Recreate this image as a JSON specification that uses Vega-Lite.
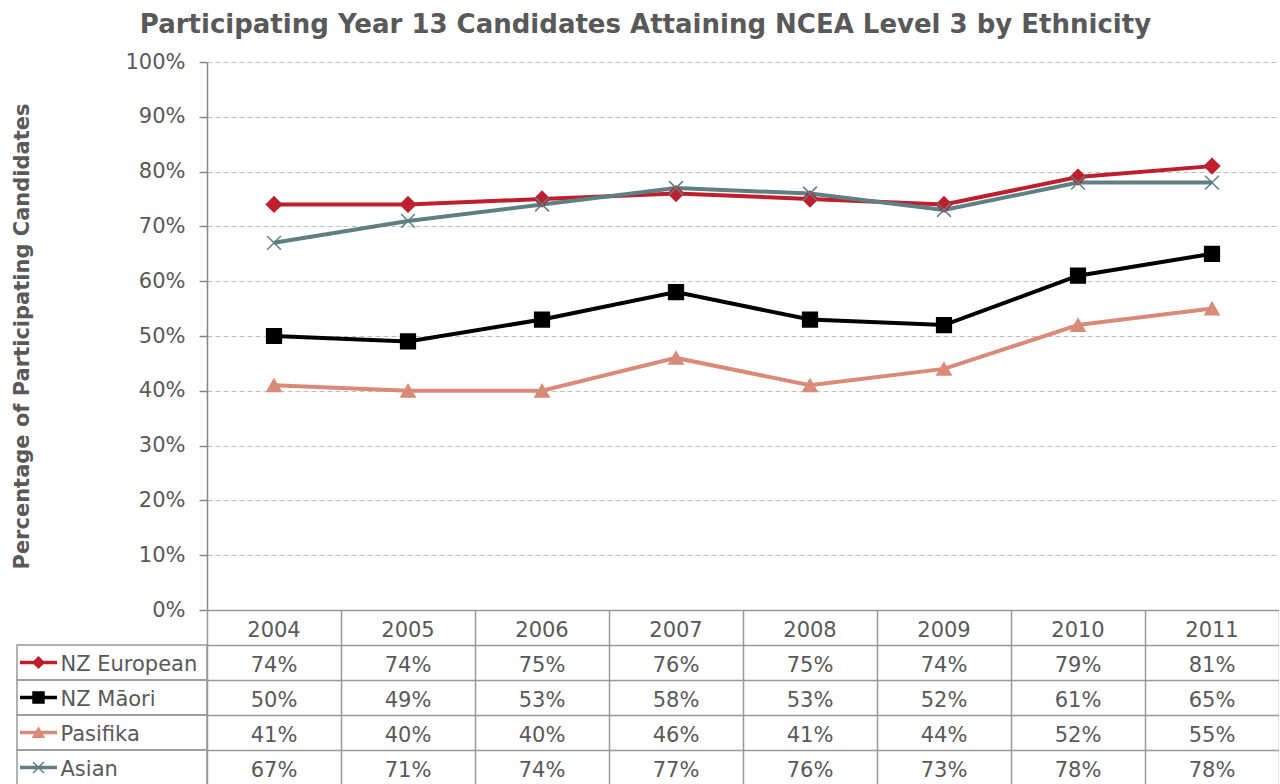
{
  "$schema": "https://vega.github.io/schema/vega-lite/v6.json",
  "background": "white",
  "padding": {"left": 11, "top": 12, "right": 0, "bottom": 0},
  "spacing": 0,
  "bounds": "flush",
  "config": {
    "font": "DejaVu Sans",
    "view": {"stroke": null},
    "axis": {"labelFont": "DejaVu Sans", "titleFont": "DejaVu Sans"}
  },
  "title": {
    "text": "Participating Year 13 Candidates Attaining NCEA Level 3 by Ethnicity",
    "font": "DejaVu Sans",
    "fontSize": 26,
    "fontWeight": "bold",
    "color": "#595959",
    "anchor": "middle",
    "offset": 13
  },
  "data": {
    "values": [
      {"series": "NZ European", "year": 2004, "value": 0.74},
      {"series": "NZ European", "year": 2005, "value": 0.74},
      {"series": "NZ European", "year": 2006, "value": 0.75},
      {"series": "NZ European", "year": 2007, "value": 0.76},
      {"series": "NZ European", "year": 2008, "value": 0.75},
      {"series": "NZ European", "year": 2009, "value": 0.74},
      {"series": "NZ European", "year": 2010, "value": 0.79},
      {"series": "NZ European", "year": 2011, "value": 0.81},
      {"series": "NZ Māori", "year": 2004, "value": 0.50},
      {"series": "NZ Māori", "year": 2005, "value": 0.49},
      {"series": "NZ Māori", "year": 2006, "value": 0.53},
      {"series": "NZ Māori", "year": 2007, "value": 0.58},
      {"series": "NZ Māori", "year": 2008, "value": 0.53},
      {"series": "NZ Māori", "year": 2009, "value": 0.52},
      {"series": "NZ Māori", "year": 2010, "value": 0.61},
      {"series": "NZ Māori", "year": 2011, "value": 0.65},
      {"series": "Pasifika", "year": 2004, "value": 0.41},
      {"series": "Pasifika", "year": 2005, "value": 0.40},
      {"series": "Pasifika", "year": 2006, "value": 0.40},
      {"series": "Pasifika", "year": 2007, "value": 0.46},
      {"series": "Pasifika", "year": 2008, "value": 0.41},
      {"series": "Pasifika", "year": 2009, "value": 0.44},
      {"series": "Pasifika", "year": 2010, "value": 0.52},
      {"series": "Pasifika", "year": 2011, "value": 0.55},
      {"series": "Asian", "year": 2004, "value": 0.67},
      {"series": "Asian", "year": 2005, "value": 0.71},
      {"series": "Asian", "year": 2006, "value": 0.74},
      {"series": "Asian", "year": 2007, "value": 0.77},
      {"series": "Asian", "year": 2008, "value": 0.76},
      {"series": "Asian", "year": 2009, "value": 0.73},
      {"series": "Asian", "year": 2010, "value": 0.78},
      {"series": "Asian", "year": 2011, "value": 0.78}
    ]
  },
  "vconcat": [
    {
      "width": 1072,
      "height": 548,
      "layer": [
        {
          "mark": {"type": "line"},
          "encoding": {
            "x": {"field": "year", "type": "quantitative", "scale": {"domain": [2003.5, 2011.5], "nice": false, "zero": false}, "axis": null},
            "y": {
              "field": "value", "type": "quantitative",
              "scale": {"domain": [0, 1], "nice": false},
              "axis": {
                "values": [0, 0.1, 0.2, 0.3, 0.4, 0.5, 0.6, 0.7, 0.8, 0.9, 1],
                "format": ".0%",
                "labelFontSize": 21, "labelColor": "#595959", "labelPadding": 14,
                "tickSize": 8, "tickColor": "#868686", "tickWidth": 1.5,
                "domainColor": "#868686", "domainWidth": 1.5,
                "grid": true, "gridColor": "#BFBFBF", "gridDash": [5, 3], "gridWidth": 1.2,
                "title": "Percentage of Participating Candidates",
                "titleFontSize": 21, "titleFontWeight": "bold", "titleColor": "#595959",
                "titlePadding": 92
              }
            },
            "color": {
              "field": "series", "type": "nominal",
              "scale": {"domain": ["NZ European", "NZ Māori", "Pasifika", "Asian"], "range": ["#BE1E2D", "#000000", "#DA8A78", "#5F7F83"]},
              "legend": null
            },
            "strokeWidth": {
              "field": "series", "type": "nominal",
              "scale": {"domain": ["NZ European", "NZ Māori", "Pasifika", "Asian"], "range": [4, 4, 3, 3]},
              "legend": null
            }
          }
        },
        {
          "mark": {"type": "point", "filled": true, "strokeWidth": 1.5, "opacity": 1},
          "encoding": {
            "x": {"field": "year", "type": "quantitative"},
            "y": {"field": "value", "type": "quantitative"},
            "shape": {
              "field": "series", "type": "nominal",
              "scale": {"domain": ["NZ European", "NZ Māori", "Pasifika", "Asian"], "range": ["diamond", "square", "triangle-up", "M-1,-1L1,1M-1,1L1,-1"]},
              "legend": null
            },
            "fill": {
              "field": "series", "type": "nominal",
              "scale": {"domain": ["NZ European", "NZ Māori", "Pasifika", "Asian"], "range": ["#BE1E2D", "#000000", "#DA8A78", "#5F7F83"]},
              "legend": null
            },
            "stroke": {
              "field": "series", "type": "nominal",
              "scale": {"domain": ["NZ European", "NZ Māori", "Pasifika", "Asian"], "range": ["#BE1E2D", "#000000", "#DA8A78", "#5F7F83"]},
              "legend": null
            },
            "size": {
              "field": "series", "type": "nominal",
              "scale": {"domain": ["NZ European", "NZ Māori", "Pasifika", "Asian"], "range": [230, 190, 120, 120]},
              "legend": null
            }
          }
        }
      ]
    },
    {
      "width": 1072,
      "height": 175,
      "layer": [
        {
          "transform": [{"filter": "datum.year == 2004"}],
          "mark": {"type": "rect", "filled": false, "color": "#999999", "strokeWidth": 1.5},
          "encoding": {
            "x": {"datum": 2002.0821, "type": "quantitative", "scale": {"domain": [2003.5, 2011.5], "nice": false, "zero": false}},
            "x2": {"datum": 2003.5},
            "y": {
              "field": "series", "type": "nominal",
              "scale": {"domain": ["header", "NZ European", "NZ Māori", "Pasifika", "Asian"], "paddingInner": 0, "paddingOuter": 0},
              "axis": {
                "orient": "left", "ticks": false, "domain": false,
                "grid": true, "tickBand": "extent", "gridColor": "#999999", "gridWidth": 1.5, "gridDash": [],
                "labelAlign": "left", "labelPadding": 147, "labelFontSize": 21, "labelColor": "#595959",
                "labelExpr": "datum.value == 'header' ? '' : datum.value",
                "labelOffset": 2,
                "title": null
              }
            }
          }
        },
        {
          "transform": [{"filter": "datum.year == 2004"}],
          "mark": {"type": "rule"},
          "encoding": {
            "x": {"datum": 2002.1045, "type": "quantitative"},
            "x2": {"datum": 2002.3806},
            "y": {"field": "series", "type": "nominal"},
            "color": {"field": "series", "type": "nominal", "legend": null},
            "strokeWidth": {"value": 3.5}
          }
        },
        {
          "transform": [{"filter": "datum.year == 2004"}],
          "mark": {"type": "point", "filled": true, "strokeWidth": 1.5, "opacity": 1, "size": 120},
          "encoding": {
            "x": {"datum": 2002.2425, "type": "quantitative"},
            "y": {"field": "series", "type": "nominal"},
            "shape": {"field": "series", "type": "nominal", "legend": null},
            "fill": {"field": "series", "type": "nominal", "legend": null},
            "stroke": {"field": "series", "type": "nominal", "legend": null}
          }
        },
        {
          "mark": {"type": "text", "fontSize": 21, "color": "#595959", "baseline": "middle", "dy": 3},
          "encoding": {
            "x": {
              "field": "year", "type": "quantitative",
              "axis": {
                "values": [2003.5, 2004.5, 2005.5, 2006.5, 2007.5, 2008.5, 2009.5, 2010.5, 2011.5],
                "grid": true, "gridColor": "#999999", "gridWidth": 1.5, "gridDash": [],
                "labels": false, "ticks": false, "domain": false, "title": null
              }
            },
            "y": {"field": "series", "type": "nominal"},
            "text": {"field": "value", "type": "quantitative", "format": ".0%"}
          }
        },
        {
          "transform": [{"filter": "datum.series == 'NZ European'"}],
          "mark": {"type": "text", "fontSize": 21, "color": "#595959", "baseline": "middle", "dy": 3},
          "encoding": {
            "x": {"field": "year", "type": "quantitative"},
            "y": {"datum": "header", "type": "nominal"},
            "text": {"field": "year", "type": "quantitative", "format": "d"}
          }
        }
      ]
    }
  ]
}
